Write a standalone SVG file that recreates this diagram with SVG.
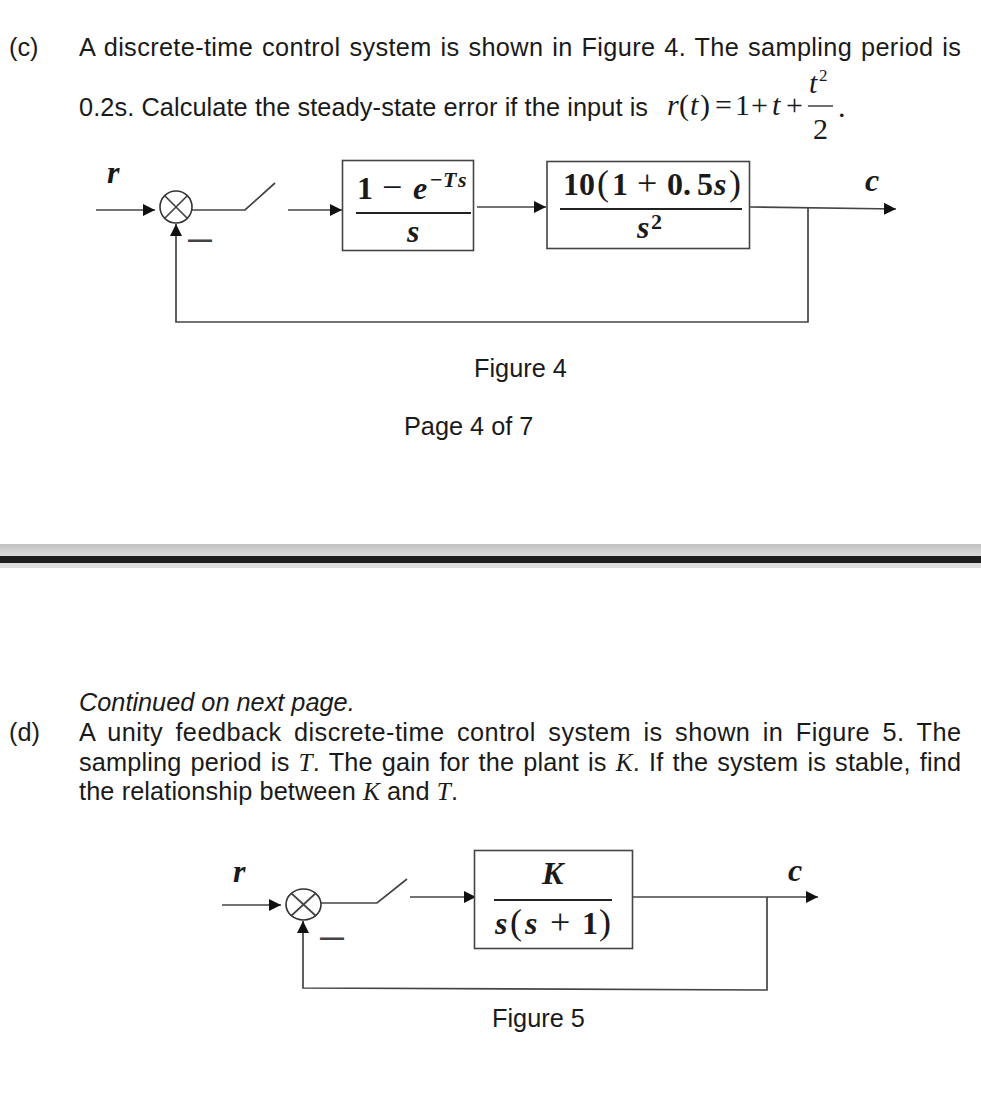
<svg xmlns="http://www.w3.org/2000/svg" width="981" height="1104" viewBox="0 0 981 1104">
<style>
.t{font-family:"Liberation Sans",Arial,sans-serif;font-size:25.3px;fill:#1a1a1a}
.i{font-style:italic}
.s{font-family:"Liberation Serif","Times New Roman",serif;fill:#1a1a1a;font-size:30px}
.m{font-family:"Liberation Serif","Times New Roman",serif;font-weight:bold;font-size:32px;fill:#1a1a1a}
.x{font-style:italic}
.y{font-size:22px}
.n{font-weight:normal;font-size:36px}
.b{fill:#fff;stroke:#444;stroke-width:1.6}
.f{stroke:#222;stroke-width:2.2}
.c{fill:none;stroke:#444;stroke-width:1.7}
.j{fill:#fff;stroke:#333;stroke-width:1.6}
.d{font-family:"Liberation Sans",Arial,sans-serif;font-size:24px;font-weight:bold;fill:#444}
</style>
<defs>
<marker id="a" markerUnits="userSpaceOnUse" markerWidth="13" markerHeight="13" refX="12" refY="6.500" orient="auto"><path d="M0,0.5 L12,6.500 L0,12.500z" fill="#111"/></marker>
<linearGradient id="g" x1="0" y1="0" x2="0" y2="1"><stop offset="0" stop-color="#c2c2c2"/><stop offset="1" stop-color="#dcdcdc"/></linearGradient>
</defs>
<rect width="981" height="1104" fill="#fff"/>

<g id="question-c">
<text class="t" x="9" y="56">(c)</text>
<text class="t" x="79" y="56" textLength="882" lengthAdjust="spacing" style="word-spacing:1.500px">A discrete-time control system is shown in Figure 4. The sampling period is</text>
<text class="t" x="79" y="116" textLength="569" lengthAdjust="spacing">0.2s. Calculate the steady-state error if the input is</text>
<text class="s" y="115"><tspan class="i" x="667">r</tspan><tspan x="679">(</tspan><tspan class="i" x="690">t</tspan><tspan x="700">)</tspan><tspan x="715">=</tspan><tspan x="735">1</tspan><tspan x="751">+</tspan><tspan class="i" x="772">t</tspan><tspan x="786">+</tspan></text>
<text class="s i" x="809" y="93">t</text>
<text class="s" x="819" y="81" style="font-size:17px">2</text>
<line x1="808" y1="106" x2="833" y2="106" stroke="#222" stroke-width="1.300"/>
<text class="s" x="813" y="139">2</text>
<text class="s" x="838" y="117">.</text>
</g>

<g id="connectors-fig4">
<path class="c" d="M96,210 H155" marker-end="url(#a)"/>
<path class="c" d="M192,210 H245 L275,183"/>
<path class="c" d="M288,210 H342" marker-end="url(#a)"/>
<path class="c" d="M477,207 H546" marker-end="url(#a)"/>
<path class="c" d="M750,207 L896,209" marker-end="url(#a)"/>
<path class="c" d="M808,208 V322 H176 V224" marker-end="url(#a)"/>
</g>
<g id="fig4-sum">
<circle class="j" cx="176" cy="207" r="16"/>
<path class="c" d="M165,196 L187,218 M187,196 L165,218"/>
</g>
<g id="fig4-labels">
<text class="m x" x="107" y="183">r</text>
<text class="d" x="188" y="247">—</text>
<text class="m x" x="865" y="191">c</text>
</g>
<g id="fig4-zoh">
<rect class="b" x="342.500" y="160.500" width="131" height="90"/>
<text class="m" y="199"><tspan x="357">1</tspan><tspan x="382" class="n">−</tspan><tspan x="413" class="x">e</tspan></text>
<text class="m y" y="187"><tspan x="430">−</tspan><tspan x="443" class="x">T</tspan><tspan x="458" class="x">s</tspan></text>
<line class="f" x1="356" y1="213" x2="471" y2="213"/>
<text class="m x" x="407" y="242">s</text>
</g>
<g id="fig4-plant">
<rect class="b" x="547" y="161.500" width="202.500" height="87"/>
<text class="m" y="195"><tspan x="563">10</tspan><tspan x="597" class="n">(</tspan><tspan x="612">1</tspan><tspan x="637" class="n">+</tspan><tspan x="667">0.</tspan><tspan x="697">5</tspan><tspan x="714" class="x">s</tspan><tspan x="729" class="n">)</tspan></text>
<line class="f" x1="560" y1="209" x2="742" y2="209"/>
<text class="m x" x="637" y="238">s</text>
<text class="m y" x="651" y="229">2</text>
</g>

<g id="captions-page">
<text class="t" x="474" y="377">Figure 4</text>
<text class="t" x="404" y="435">Page 4 of 7</text>
</g>

<g id="page-divider">
<rect x="0" y="544" width="981" height="12" fill="url(#g)"/>
<rect x="0" y="556" width="981" height="7" fill="#1e1e1e"/>
<rect x="0" y="563" width="981" height="5" fill="#dedede"/>
</g>

<g id="question-d">
<text class="t i" x="79" y="711">Continued on next page.</text>
<text class="t" x="9" y="741">(d)</text>
<text class="t" x="79" y="741" textLength="882" lengthAdjust="spacing" style="word-spacing:5px">A unity feedback discrete-time control system is shown in Figure 5. The</text>
<text class="t" x="79" y="771" textLength="882" lengthAdjust="spacing" style="word-spacing:2px">sampling period is <tspan class="i" font-family="Liberation Serif">T</tspan>. The gain for the plant is <tspan class="i" font-family="Liberation Serif">K</tspan>. If the system is stable, find</text>
<text class="t" x="79" y="800" textLength="379" lengthAdjust="spacing">the relationship between <tspan class="i" font-family="Liberation Serif">K</tspan> and <tspan class="i" font-family="Liberation Serif">T</tspan>.</text>
</g>

<g id="connectors-fig5">
<path class="c" d="M222,905 H281" marker-end="url(#a)"/>
<path class="c" d="M321,903 H377 L407,879"/>
<path class="c" d="M410,897 H476" marker-end="url(#a)"/>
<path class="c" d="M632,897 H818" marker-end="url(#a)"/>
<path class="c" d="M767,897 V990 L303,988 V921" marker-end="url(#a)"/>
</g>
<g id="fig5-sum">
<ellipse class="j" cx="303.500" cy="904.500" rx="17.500" ry="15.500"/>
<path class="c" d="M291,893 L316,916 M316,893 L291,916"/>
</g>
<g id="fig5-labels">
<text class="m x" x="233" y="882">r</text>
<text class="d" x="320" y="945">—</text>
<text class="m x" x="788" y="881">c</text>
</g>
<g id="fig5-plant">
<rect class="b" x="474.500" y="850.500" width="158" height="98"/>
<text class="m x" x="542" y="884">K</text>
<line class="f" x1="494" y1="900" x2="612" y2="900"/>
<text class="m" y="934"><tspan x="495" class="x">s</tspan><tspan x="510" class="n">(</tspan><tspan x="525" class="x">s</tspan><tspan x="550" class="n">+</tspan><tspan x="582">1</tspan><tspan x="599" class="n">)</tspan></text>
</g>
<g id="caption-fig5">
<text class="t" x="492" y="1027">Figure 5</text>
</g>
</svg>
